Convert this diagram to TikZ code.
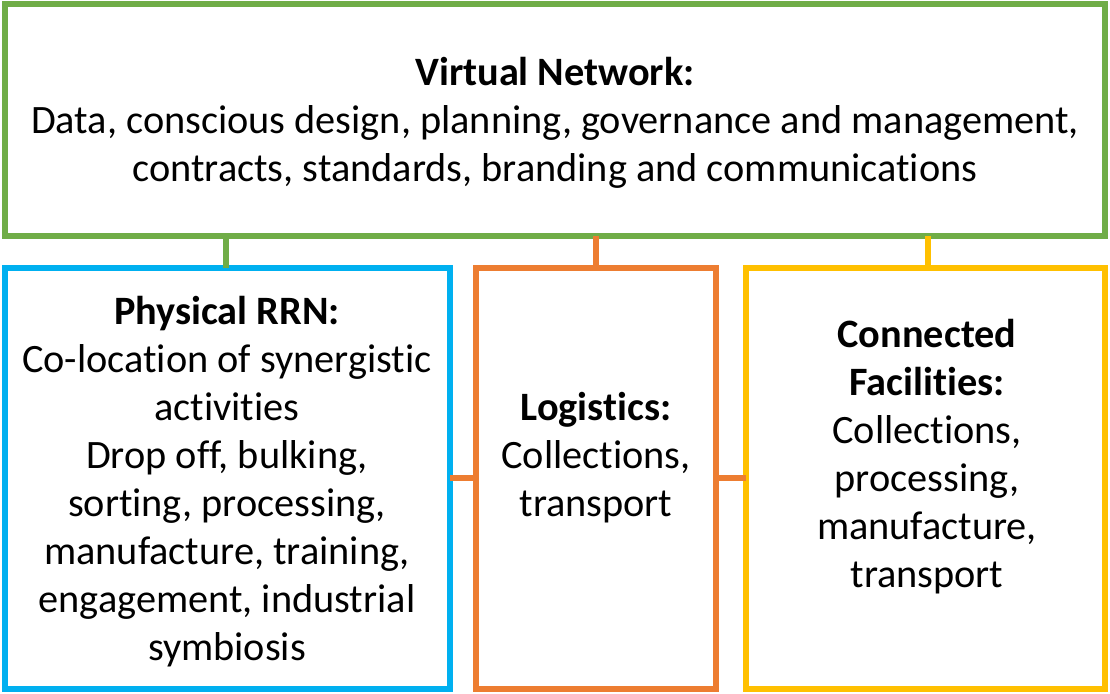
\documentclass[tikz,border=0pt]{standalone}
\usepackage{fontspec}
\setmainfont[Ligatures={NoCommon}]{Carlito}
\definecolor{vgreen}{HTML}{70AD47}
\definecolor{pblue}{HTML}{00B0F0}
\definecolor{lorange}{HTML}{ED7D31}
\definecolor{cyellow}{HTML}{FFC000}
\begin{document}
\begin{tikzpicture}[x=1pt,y=-1pt,
  frame/.style={line width=6.5pt},
  txt/.style={align=center,font=\fontsize{40.3}{48}\selectfont,inner sep=0pt}]
\useasboundingbox (0,0) rectangle (1110,693);
% boxes
\draw[frame,vgreen] (5,4) rectangle (1105,236);
\draw[frame,pblue] (5,268) rectangle (450,689);
\draw[frame,lorange] (476,268) rectangle (716,689);
\draw[frame,cyellow] (746,268) rectangle (1105,689);
% connector anchors
\coordinate (g1) at (226,236); \coordinate (b1) at (226,268);
\coordinate (g2) at (596,236); \coordinate (o1) at (596,268);
\coordinate (g3) at (928,236); \coordinate (y1) at (928,268);
\coordinate (b2) at (450,478); \coordinate (o2) at (476,478);
\coordinate (o3) at (716,478); \coordinate (y2) at (746,478);
\draw[frame,vgreen] (g1) -- (b1);
\draw[frame,lorange] (g2) -- (o1);
\draw[frame,cyellow] (g3) -- (y1);
\draw[frame,lorange] (b2) -- (o2);
\draw[frame,lorange] (o3) -- (y2);
% texts
\node[txt] (vn) at (555,123) {\textbf{Virtual Network:}\\Data, conscious design, planning, governance and management,\\contracts, standards, branding and communications};
\node[txt] (pr) at (227,482) {\textbf{Physical RRN:}\\Co-location of synergistic\\activities\\Drop off, bulking,\\sorting, processing,\\manufacture, training,\\engagement, industrial\\symbiosis};
\node[txt] (lg) at (596,458) {\textbf{Logistics:}\\Collections,\\transport};
\node[txt] (cf) at (927,457) {\textbf{Connected}\\\textbf{Facilities:}\\Collections,\\processing,\\manufacture,\\transport};
\end{tikzpicture}
\end{document}
